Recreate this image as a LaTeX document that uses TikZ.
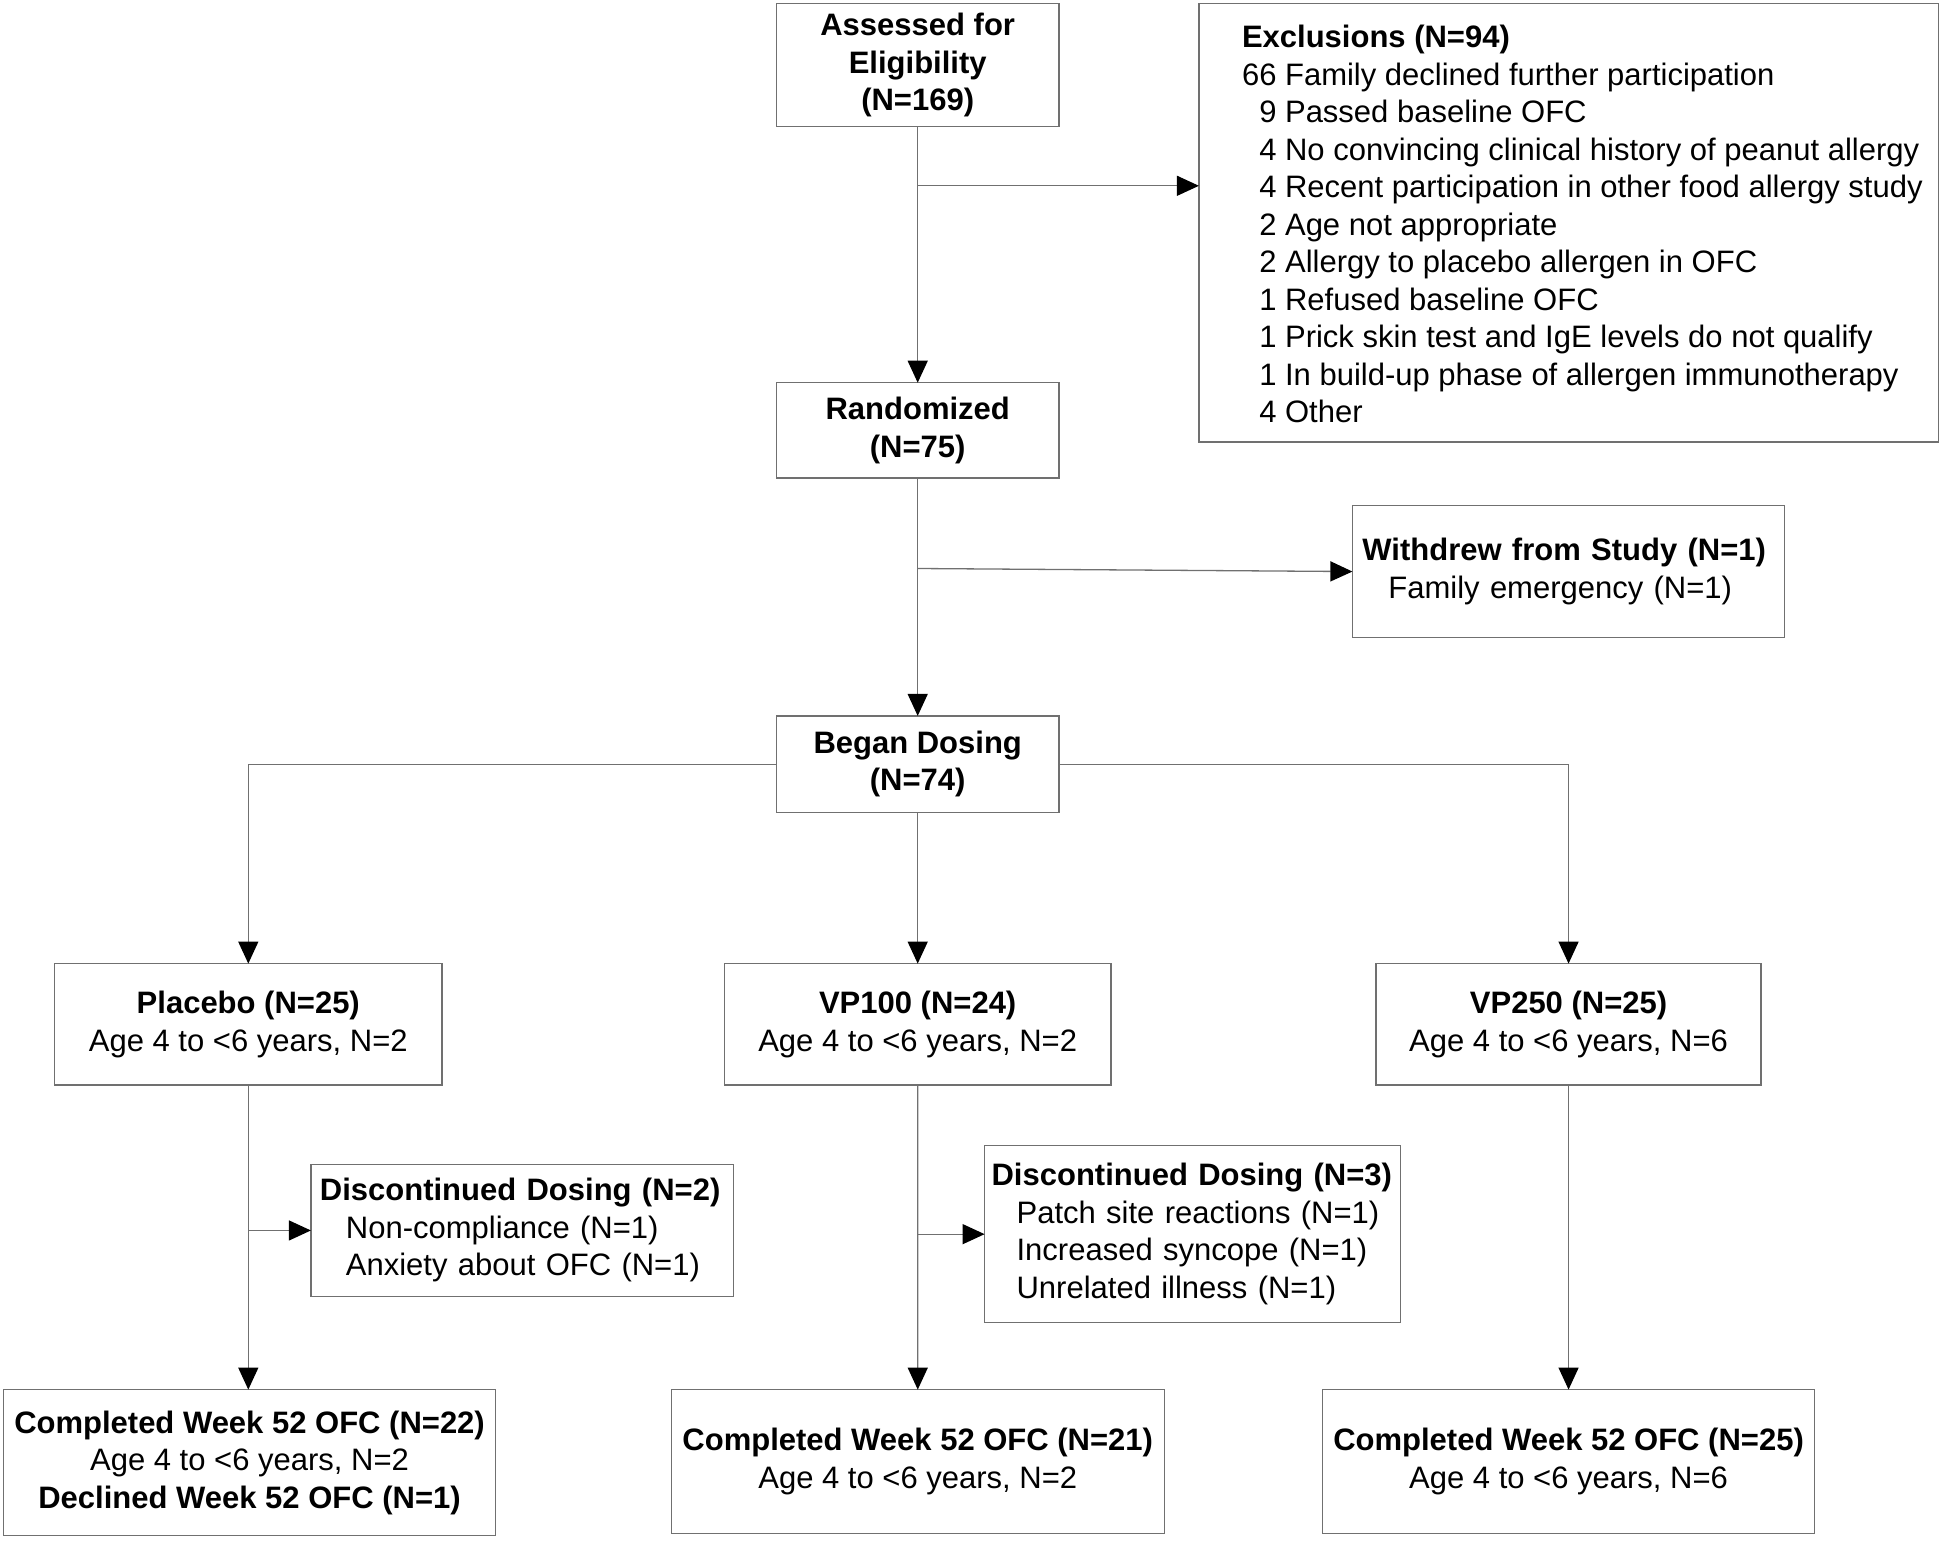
\documentclass[tikz,border=0pt]{standalone}
\usepackage{fontspec}
\setmainfont{Liberation Sans}
\usetikzlibrary{arrows.meta}
\definecolor{linegray}{HTML}{707070}
\begin{document}
\begin{tikzpicture}[x=1pt,y=-1pt,
  every node/.style={font=\fontsize{31}{37.5}\selectfont, outer sep=0pt},
  cbox/.style={draw=linegray, line width=1.3pt, inner sep=0pt, align=center},
  lbox/.style={draw=linegray, line width=1.3pt, inner ysep=0pt, align=left},
  conn/.style={draw=linegray, line width=1.3pt},
  arr/.style={conn, -{Triangle[length=22pt,width=20pt,color=black,fill=black]}}
]
\useasboundingbox (0,0) rectangle (1942,1541);

\node[cbox, minimum width=282.4pt, minimum height=122.6pt] (assess) at (917.7,65) {\textbf{Assessed for}\\\textbf{Eligibility}\\\textbf{(N=169)}};
\node[cbox, minimum width=739.4pt, minimum height=438.4pt] (excl) at (1568.6,222.9) {};
\node[anchor=west, align=left, inner sep=0pt] (excltext) at (1242,224.4) {\textbf{Exclusions (N=94)}\\
66 Family declined further participation\\
\phantom{6}9 Passed baseline OFC\\
\phantom{6}4 No convincing clinical history of peanut allergy\\
\phantom{6}4 Recent participation in other food allergy study\\
\phantom{6}2 Age not appropriate\\
\phantom{6}2 Allergy to placebo allergen in OFC\\
\phantom{6}1 Refused baseline OFC\\
\phantom{6}1 Prick skin test and IgE levels do not qualify\\
\phantom{6}1 In build-up phase of allergen immunotherapy\\
\phantom{6}4 Other};

\node[cbox, minimum width=282.4pt, minimum height=95.4pt] (rand) at (917.7,430.4) {\textbf{Randomized}\\\textbf{(N=75)}};
\node[lbox, inner xsep=10pt, text width=412.3pt, minimum height=132.5pt] (withdrew) at (1568.55,571.55) {\textbf{Withdrew from Study (N=1)}\\\hspace*{26pt}Family emergency (N=1)};
\node[cbox, minimum width=282.4pt, minimum height=96.6pt] (began) at (917.7,764.2) {\textbf{Began Dosing}\\\textbf{(N=74)}};

\node[cbox, minimum width=387.6pt, minimum height=121.3pt] (placebo) at (248.3,1024.25) {\textbf{Placebo (N=25)}\\Age 4 to {<}6 years, N=2};
\node[cbox, minimum width=386.4pt, minimum height=121.3pt] (vp100) at (917.7,1024.25) {\textbf{VP100 (N=24)}\\Age 4 to {<}6 years, N=2};
\node[cbox, minimum width=385.1pt, minimum height=121.3pt] (vp250) at (1568.55,1024.25) {\textbf{VP250 (N=25)}\\Age 4 to {<}6 years, N=6};

\node[lbox, inner xsep=9pt, text width=404.3pt, minimum height=132.5pt] (disc1) at (522.05,1230.45) {\textbf{Discontinued Dosing (N=2)}\\\hspace*{26pt}Non-compliance (N=1)\\\hspace*{26pt}Anxiety about OFC (N=1)};
\node[lbox, inner xsep=7pt, text width=402.1pt, minimum height=177.1pt] (disc2) at (1192.65,1234.15) {\textbf{Discontinued Dosing (N=3)}\\\hspace*{25pt}Patch site reactions (N=1)\\\hspace*{25pt}Increased syncope (N=1)\\\hspace*{25pt}Unrelated illness (N=1)};

\node[cbox, minimum width=491.7pt, minimum height=146.1pt] (comp1) at (249.55,1462.65) {\textbf{Completed Week 52 OFC (N=22)}\\Age 4 to {<}6 years, N=2\\\textbf{Declined Week 52 OFC (N=1)}};
\node[cbox, minimum width=492.9pt, minimum height=143.6pt] (comp2) at (917.75,1461.4) {\textbf{Completed Week 52 OFC (N=21)}\\Age 4 to {<}6 years, N=2};
\node[cbox, minimum width=491.7pt, minimum height=143.6pt] (comp3) at (1568.55,1461.4) {\textbf{Completed Week 52 OFC (N=25)}\\Age 4 to {<}6 years, N=6};

% connectors
\coordinate (bexcl) at (917.7,185.8);
\coordinate (bwd) at (917.7,568.5);
\draw[arr] (assess.south) -- (rand.north);
\draw[arr] (bexcl) -- (bexcl -| excl.west);
\draw[arr] (rand.south) -- (began.north);
\draw[arr] (bwd) -- (withdrew.west);
\draw[arr] (began.west) -| (placebo.north);
\draw[arr] (began.east) -| (vp250.north);
\draw[arr] (began.south) -- (vp100.north);
\draw[arr] (placebo.south) -- (comp1.north -| placebo.south);
\draw[arr] (disc1.west -| placebo.south) -- (disc1.west);
\draw[arr] (vp100.south) -- (comp2.north);
\draw[arr] (disc2.west -| vp100.south) -- (disc2.west);
\draw[arr] (vp250.south) -- (comp3.north);
\end{tikzpicture}
\end{document}
